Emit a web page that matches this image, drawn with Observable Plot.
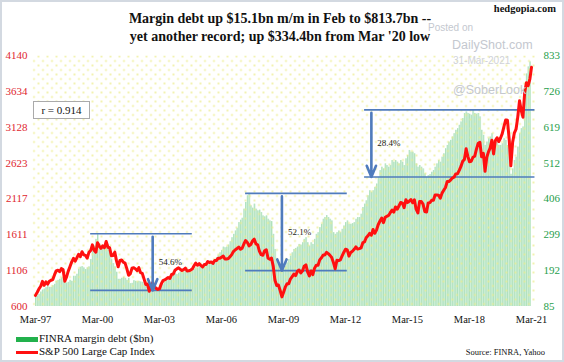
<!DOCTYPE html>
<html><head><meta charset="utf-8">
<script src="https://cdn.jsdelivr.net/npm/d3@7"></script>
<script src="https://cdn.jsdelivr.net/npm/@observablehq/plot@0.6"></script>
<style>
body{margin:0;background:#fff;}
#wrap{position:relative;width:564px;height:362px;overflow:hidden;font-family:"Liberation Serif","Times New Roman",serif;background:#fff;}
#wrap svg{position:absolute;left:0;top:0;}
#wrap svg text{font-family:"Liberation Serif","Times New Roman",serif;}
.t{position:absolute;white-space:nowrap;line-height:1;}
.wm{font-family:"Liberation Sans",Arial,sans-serif;color:#c4c8cf;}
#border{position:absolute;left:0;top:0;width:564px;height:362px;box-sizing:border-box;border:2px solid #d3d9e1;pointer-events:none;}
</style></head><body>
<div id="wrap"></div>
<script>
// ---- data ----
const startYear = 1997, startMonth = 2; // March 1997 (0-based month)
// S&P 500 monthly close, Mar-1997 .. Mar-2021
const sp500 = [
757.12,801.34,848.28,885.14,954.31,899.47,947.28,914.62,955.40,970.43,
980.28,1049.34,1101.75,1111.75,1090.82,1133.84,1120.67,957.28,1017.01,1098.67,1163.63,1229.23,
1279.64,1238.33,1286.37,1335.18,1301.84,1372.71,1328.72,1320.41,1282.71,1362.93,1388.91,1469.25,
1394.46,1366.42,1498.58,1452.43,1420.60,1454.60,1430.83,1517.68,1436.51,1429.40,1314.95,1320.28,
1366.01,1239.94,1160.33,1249.46,1255.82,1224.38,1211.23,1133.58,1040.94,1059.78,1139.45,1148.08,
1130.20,1106.73,1147.39,1076.92,1067.14,989.82,911.62,916.07,815.28,885.76,936.31,879.82,
855.70,841.15,848.18,916.92,963.59,974.50,990.31,1008.01,995.97,1050.71,1058.20,1111.92,
1131.13,1144.94,1126.21,1107.30,1120.68,1140.84,1101.72,1104.24,1114.58,1130.20,1173.82,1211.92,
1181.27,1203.60,1180.59,1156.85,1191.50,1191.33,1234.18,1220.33,1228.81,1207.01,1249.48,1248.29,
1280.08,1280.66,1294.83,1310.61,1270.09,1270.20,1276.66,1303.82,1335.85,1377.94,1400.63,1418.30,
1438.24,1406.82,1420.86,1482.37,1530.62,1503.35,1455.27,1473.99,1526.75,1549.38,1481.14,1468.36,
1378.55,1330.63,1322.70,1385.59,1400.38,1280.00,1267.38,1282.83,1166.36,968.75,896.24,903.25,
825.88,735.09,797.87,872.81,919.14,919.32,987.48,1020.62,1057.08,1036.19,1095.63,1115.10,
1073.87,1104.49,1169.43,1186.69,1089.41,1030.71,1101.60,1049.33,1141.20,1183.26,1180.55,1257.64,
1286.12,1327.22,1325.83,1363.61,1345.20,1320.64,1292.28,1218.89,1131.42,1253.30,1246.96,1257.60,
1312.41,1365.68,1408.47,1397.91,1310.33,1362.16,1379.32,1406.58,1440.67,1412.16,1416.18,1426.19,
1498.11,1514.68,1569.19,1597.57,1630.74,1606.28,1685.73,1632.97,1681.55,1756.54,1805.81,1848.36,
1782.59,1859.45,1872.34,1883.95,1923.57,1960.23,1930.67,2003.37,1972.29,2018.05,2067.56,2058.90,
1994.99,2104.50,2067.89,2085.51,2107.39,2063.11,2103.84,1972.18,1920.03,2079.36,2080.41,2043.94,
1940.24,1932.23,2059.74,2065.30,2096.95,2098.86,2173.60,2170.95,2168.27,2126.15,2198.81,2238.83,
2278.87,2363.64,2362.72,2384.20,2411.80,2423.41,2470.30,2471.65,2519.36,2575.26,2647.58,2673.61,
2823.81,2713.83,2640.87,2648.05,2705.27,2718.37,2816.29,2901.52,2913.98,2711.74,2760.17,2506.85,
2704.10,2784.49,2834.40,2945.83,2752.06,2941.76,2980.38,2926.46,2976.74,3037.56,3140.98,3230.78,
3225.52,2954.22,2584.59,2912.43,3044.31,3100.29,3271.12,3500.31,3363.00,3269.96,3621.63,3756.07,
3714.24,3811.15,3972.89
];
// FINRA margin debt ($bn), Mar-1997 .. Feb-2021
const marginDebt = [
118,116,121,128,134,137,141,146,142,142,
147,151,160,163,166,170,172,160,155,157,163,160,
175,175,181,196,202,204,200,195,200,203,225,250,
265,285,299,272,266,265,262,270,268,250,226,213,
203,187,166,166,169,172,169,163,169,153,154,162,
160,158,160,158,157,152,146,140,137,136,138,136,
136,137,140,144,150,157,162,168,171,176,180,183,
180,184,188,190,188,192,188,186,188,190,196,200,
200,203,206,204,205,207,210,212,215,220,225,230,
238,245,252,262,260,262,268,278,290,300,310,318,
335,342,348,375,395,415,422,385,378,390,375,370,
372,365,355,352,355,345,340,338,300,255,222,210,
205,195,198,205,215,225,235,245,255,258,262,270,
268,275,285,290,275,265,275,270,285,300,305,320,
330,345,350,356,350,345,340,305,300,305,310,305,
315,325,335,340,330,330,332,335,345,350,350,360,
380,390,400,415,430,425,430,440,450,470,490,500,
495,510,505,500,505,520,515,520,515,510,520,515,
505,525,535,550,545,545,540,510,500,505,500,495,
480,470,475,478,485,490,500,510,520,515,530,540,
555,565,575,580,590,600,610,615,625,635,645,660,
665,660,658,655,670,660,658,660,650,610,595,565,
575,585,590,600,565,575,585,565,565,570,585,580,
565,550,479,495,520,530,560,600,615,620,720,778,
799,814
];
const leftTicks  = [600,1106,1611,2117,2623,3128,3634,4140];
const rightTicks = [85,192,299,406,512,619,726,833];
const xTickYears = [1997,2000,2003,2006,2009,2012,2015,2018,2021];
// drawdown annotations (margin debt, $bn)
const ddLabels  = ["54.6%","52.1%","28.4%"];
const ddPeak    = [302,422,671];
const ddTrough  = [133,192,471];
const ddFrom    = ["1999-11","2007-05","2013-02"];
const ddTo      = ["2004-10","2012-04","2021-05"];
const ddArrowAt = ["2002-11","2009-02","2013-06"];

// ---- build tables ----
const month = i => new Date(Date.UTC(startYear, startMonth + i, 1));
const parseM = s => { const [y,m] = s.split("-").map(Number); return new Date(Date.UTC(y, m-1, 1)); };
const L0 = leftTicks[0], L1 = leftTicks[leftTicks.length-1];
const R0 = rightTicks[0], R1 = rightTicks[rightTicks.length-1];
const toLeft = v => L0 + (v - R0) * (L1 - L0) / (R1 - R0);
const spData = sp500.map((v,i)=>({date: month(i), value: v}));
const debtData = marginDebt.map((v,i)=>({date: month(i), next: month(i+1), value: toLeft(v)}));
const dd = ddLabels.map((lab,i)=>({
  label: lab, from: parseM(ddFrom[i]), to: parseM(ddTo[i]), at: parseM(ddArrowAt[i]),
  peak: toLeft(ddPeak[i]), trough: toLeft(ddTrough[i]), mid: (toLeft(ddPeak[i])+toLeft(ddTrough[i]))/2
}));
const xTicks = xTickYears.map(y => new Date(Date.UTC(y, 2, 1)));
const blue = "#4f7bbd";
const serif = "'Liberation Serif','Times New Roman',serif";

const chart = Plot.plot({
  width: 564, height: 362,
  marginLeft: 35, marginRight: 33, marginTop: 55, marginBottom: 56,
  style: "background: transparent; font-family: 'Liberation Serif','Times New Roman',serif; font-size: 11px;",
  x: {type: "utc", domain: [new Date(Date.UTC(1997,2,1)), new Date(Date.UTC(2021,2,1))]},
  y: {domain: [L0, L1]},
  marks: [
    Plot.rect(debtData, {x1: "date", x2: "next", y1: L0, y2: "value", fill: "#d3f0da"}),
    Plot.ruleX(debtData, {x: "date", y1: L0, y2: "value", stroke: "#97d6a9", strokeWidth: 0.6}),
    Plot.frame({fill: "url(#dots)", stroke: null, insetLeft: -3, insetRight: -4}),
    Plot.ruleY(dd, {y: "peak", x1: "from", x2: "to", stroke: blue, strokeWidth: 1.6}),
    Plot.ruleY(dd, {y: "trough", x1: "from", x2: "to", stroke: blue, strokeWidth: 1.6}),
    Plot.line(spData, {x: "date", y: "value", stroke: "#ff1010", strokeWidth: 3, strokeLinejoin: "round"}),
    Plot.arrow(dd, {x1: "at", x2: "at", y1: "peak", y2: "trough", stroke: blue, strokeWidth: 2.6, headLength: 7, headAngle: 45, insetStart: 3}),
    Plot.text(dd, {x: "at", y: "mid", text: "label", dx: 6, textAnchor: "start", fontSize: 9, fontFamily: serif, fill: "#222"}),
    Plot.axisY(leftTicks, {anchor: "left", tickSize: 0, tickPadding: 8, tickFormat: d => String(d), fill: "#e0262e", fontSize: 11, fontFamily: serif, label: null}),
    Plot.axisY(leftTicks, {anchor: "right", tickSize: 0, tickPadding: 12, tickFormat: d => String(rightTicks[leftTicks.indexOf(d)]), fill: "#1f9e4b", fontSize: 11, fontFamily: serif, label: null}),
    Plot.axisX(xTicks, {tickSize: 0, tickPadding: 9, tickFormat: d3.utcFormat("%b-%y"), fill: "#111", fontSize: 10.5, fontFamily: serif, label: null})
  ]
});
// dotted background pattern
const ns = "http://www.w3.org/2000/svg";
const defs = document.createElementNS(ns, "defs");
defs.innerHTML = '<pattern id="dots" width="9" height="9" patternUnits="userSpaceOnUse"><circle cx="2" cy="2" r="0.9" fill="#ecec8c"/><circle cx="6.5" cy="6.5" r="0.9" fill="#ecec8c"/></pattern>';
chart.insertBefore(defs, chart.firstChild);

const wrap = document.getElementById("wrap");
wrap.appendChild(chart);
function addText(html, css, cls){ const d = document.createElement("div"); d.className = "t " + (cls||""); d.innerHTML = html; d.style.cssText = css; wrap.appendChild(d); return d; }
addText("Margin debt up $15.1bn m/m in Feb to $813.7bn --<br>yet another record; up $334.4bn from Mar '20 low",
  "left:0;width:560px;top:10px;text-align:center;font-weight:bold;font-size:14px;line-height:18px;color:#111;");
addText("hedgopia.com", "right:8px;top:4px;font-weight:bold;font-size:10.5px;color:#111;");
addText("Posted on", "left:428px;top:23px;font-size:10px;", "wm");
addText("DailyShot.com", "left:452px;top:39px;font-size:12.5px;", "wm");
addText("31-Mar-2021", "left:453px;top:56px;font-size:10px;color:#d0d3d9;", "wm");
addText("@SoberLook", "left:453px;top:84px;font-size:12.5px;", "wm");
addText("r = 0.914", "left:33px;top:101px;width:57px;height:18px;box-sizing:border-box;border:1px solid #aaa;background:#fff;font-size:11px;line-height:16px;text-align:center;color:#111;");
// legend
addText('<span style="display:inline-block;width:22px;height:5px;background:#22b14c;vertical-align:middle;margin-right:1px"></span>FINRA margin debt ($bn)',
  "left:16px;top:332px;font-size:11px;line-height:12px;color:#111;");
addText('<span style="display:inline-block;width:22px;height:3px;background:#ff1010;vertical-align:middle;margin-right:1px"></span>S&amp;P 500 Large Cap Index',
  "left:16px;top:345px;font-size:11px;line-height:12px;color:#111;");
addText("Source: FINRA, Yahoo", "right:19px;top:348px;font-size:8.5px;color:#111;");
const b = document.createElement("div"); b.id = "border"; wrap.appendChild(b);
</script>
</body></html>
